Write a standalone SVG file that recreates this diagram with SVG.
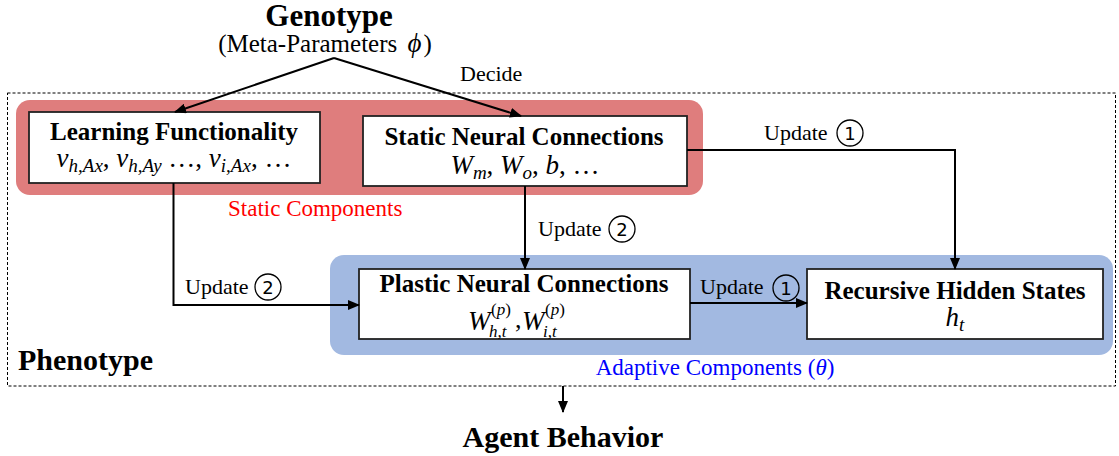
<svg xmlns="http://www.w3.org/2000/svg" width="1119" height="456" viewBox="0 0 1119 456">
<style>
.t{font-family:"Liberation Serif","Times New Roman",serif;fill:#000}
.b{font-weight:bold}
.m{font-family:"Liberation Serif","Times New Roman",serif;font-style:italic;fill:#000}
.box{fill:#fff;stroke:#222;stroke-width:1.8}
.con{fill:none;stroke:#000;stroke-width:2}
.circ{fill:none;stroke:#000;stroke-width:1.3}
.num{font-family:"DejaVu Sans","Liberation Sans",sans-serif;font-size:18px;text-anchor:middle;fill:#000}
</style>
<defs>
<marker id="ah" markerUnits="userSpaceOnUse" markerWidth="12" markerHeight="10" refX="11" refY="5" orient="auto">
<path d="M0,0 L12,5 L0,10 z" fill="#000"/>
</marker>
</defs>
<rect width="1119" height="456" fill="#fff"/>

<g id="phenotype">
<rect x="7.5" y="93" width="1108" height="293" fill="none" stroke="#000" stroke-width="1" stroke-dasharray="3,2"/>
<text class="t b" x="18" y="370" font-size="30">Phenotype</text>
</g>

<g id="static-components">
<rect x="16" y="100" width="687" height="95" rx="14" fill="#DF7D7D"/>
<text class="t" x="228" y="216" font-size="23" style="fill:#FF0000">Static Components</text>
</g>

<g id="adaptive-components">
<rect x="330" y="255" width="783" height="100" rx="14" fill="#A2B9E1"/>
<text class="t" x="715" y="375" font-size="23" text-anchor="middle" style="fill:#0000FF">Adaptive Components (<tspan font-style="italic">θ</tspan>)</text>
</g>

<g id="genotype">
<text class="t b" x="329" y="26" font-size="31" text-anchor="middle">Genotype</text>
<text class="t" x="325" y="52" font-size="25" text-anchor="middle">(Meta-Parameters <tspan font-style="italic" font-size="27" dx="4">ϕ</tspan><tspan dx="2">)</tspan></text>
</g>

<g id="learning-functionality">
<rect class="box" x="29" y="112" width="291" height="71"/>
<text class="t b" x="174" y="140" font-size="25" text-anchor="middle">Learning Functionality</text>
<text class="m" x="174" y="167" font-size="27" text-anchor="middle">v<tspan font-size="19" dy="5">h,Ax</tspan><tspan dy="-5" font-style="normal">, </tspan>v<tspan font-size="19" dy="5">h,Ay</tspan><tspan dy="-5" font-style="normal"> …, </tspan>v<tspan font-size="19" dy="5">i,Ax</tspan><tspan dy="-5" font-style="normal">, …</tspan></text>
</g>

<g id="static-neural-connections">
<rect class="box" x="363" y="116" width="324" height="70"/>
<text class="t b" x="524" y="145" font-size="25" text-anchor="middle">Static Neural Connections</text>
<text class="m" x="525" y="174" font-size="27" text-anchor="middle">W<tspan font-size="19" dy="5">m</tspan><tspan dy="-5" font-style="normal">, </tspan>W<tspan font-size="19" dy="5">o</tspan><tspan dy="-5" font-style="normal">, </tspan>b<tspan font-style="normal">, …</tspan></text>
</g>

<g id="plastic-neural-connections">
<rect class="box" x="359" y="269" width="331" height="70"/>
<text class="t b" x="524" y="292" font-size="25" text-anchor="middle">Plastic Neural Connections</text>
<text class="m" x="468" y="330" font-size="27">W</text>
<text class="t" x="491" y="315" font-size="17">(<tspan font-style="italic">p</tspan>)</text>
<text class="m" x="489" y="337" font-size="17">h,t</text>
<text class="t" x="515" y="328" font-size="26">,</text>
<text class="m" x="522" y="330" font-size="27">W</text>
<text class="t" x="545" y="315" font-size="17">(<tspan font-style="italic">p</tspan>)</text>
<text class="m" x="543" y="337" font-size="17">i,t</text>
</g>

<g id="recursive-hidden-states">
<rect class="box" x="807" y="269" width="296" height="70"/>
<text class="t b" x="955" y="299" font-size="25" text-anchor="middle">Recursive Hidden States</text>
<text class="m" x="955" y="326" font-size="27" text-anchor="middle">h<tspan font-size="19" dy="5">t</tspan></text>
</g>

<g id="agent-behavior">
<text class="t b" x="563" y="447" font-size="30" text-anchor="middle">Agent Behavior</text>
</g>

<g id="connectors">
<path class="con" d="M334,58 L175,112" marker-end="url(#ah)"/>
<path class="con" d="M334,58 L521,116" marker-end="url(#ah)"/>
<path class="con" d="M173.5,183 V305 H359" marker-end="url(#ah)"/>
<path class="con" d="M525,186 V269" marker-end="url(#ah)"/>
<path class="con" d="M687,150 H955 V269" marker-end="url(#ah)"/>
<path class="con" d="M690,303 H807" marker-end="url(#ah)"/>
<path class="con" d="M563,386 V412" marker-end="url(#ah)"/>
<text class="t" x="460" y="81" font-size="22">Decide</text>
<text class="t" x="185" y="294" font-size="22">Update</text>
<circle class="circ" cx="268" cy="287" r="13"/>
<text class="num" x="268" y="293.5">2</text>
<text class="t" x="538" y="236" font-size="22">Update</text>
<circle class="circ" cx="622" cy="229" r="13"/>
<text class="num" x="622" y="235.5">2</text>
<text class="t" x="764" y="140" font-size="22">Update</text>
<circle class="circ" cx="850" cy="133" r="13"/>
<text class="num" x="850" y="139.5">1</text>
<text class="t" x="700" y="294" font-size="22">Update</text>
<circle class="circ" cx="786" cy="288" r="13"/>
<text class="num" x="786" y="294.5">1</text>
</g>
</svg>
